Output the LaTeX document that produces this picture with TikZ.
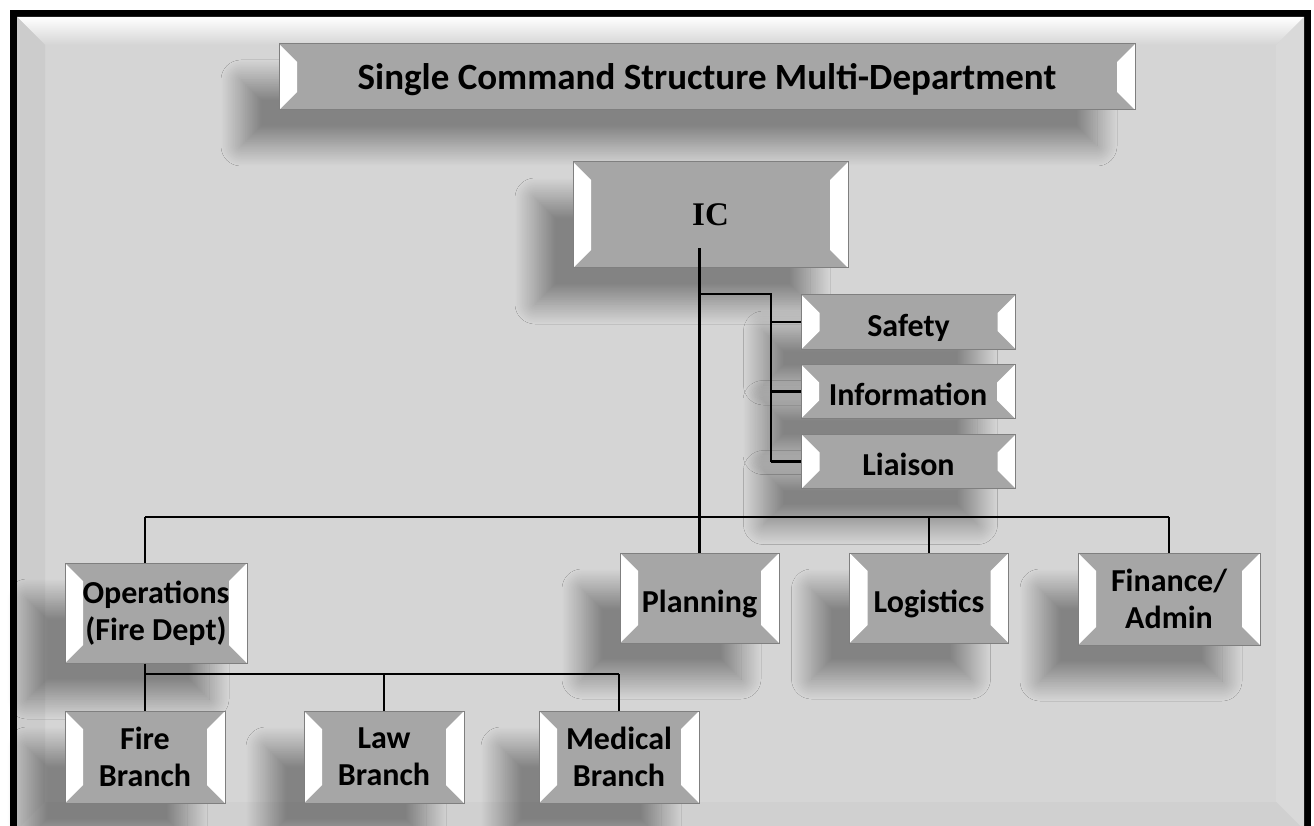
\documentclass[tikz,border=0pt]{standalone}
\usepackage{fontspec}
\setmainfont{Carlito}
\newfontfamily\icfont{Liberation Serif}
\usetikzlibrary{shadows.blur}
\definecolor{framefill}{HTML}{D5D5D5}
\definecolor{frameleft}{HTML}{CCCCCC}
\definecolor{frameright}{HTML}{D9D9D9}
\definecolor{framebottom}{HTML}{D0D0D0}
\definecolor{boxfill}{HTML}{A6A6A6}
\definecolor{boxline}{HTML}{7F7F7F}
\begin{document}
\begin{tikzpicture}[x=1pt,y=-1pt,
	box/.style={draw=boxline,line width=1pt,fill=boxfill,inner sep=0pt,align=center,
		font=\fontsize{32}{37}\selectfont\bfseries,
		blur shadow={shadow xshift=-38pt,shadow yshift=-36pt,shadow blur radius=20pt,
			shadow blur steps=30,shadow opacity=38},
		path picture={
			\fill[white] (path picture bounding box.north west) -- ++(18,18)
				-- ([shift={(18pt,18pt)}]path picture bounding box.south west)
				-- (path picture bounding box.south west) -- cycle;
			\fill[white] (path picture bounding box.north east) -- ++(-18,18)
				-- ([shift={(-18pt,18pt)}]path picture bounding box.south east)
				-- (path picture bounding box.south east) -- cycle;
		}},
	oneline/.style={text height=34pt,text depth=6pt},
	link/.style={line width=2.8pt}]
	\useasboundingbox (0,0) rectangle (1314,826);
	\clip (0,0) rectangle (1314,826);
	% frame
	\fill[black] (10,10) rectangle (1311,845);
	\fill[framefill] (17,17) rectangle (1304,830);
	\shade[top color=white,bottom color=framefill] (17,17) -- (1304,17) -- (1276,45) -- (45,45) -- cycle;
	\fill[frameleft] (17,17) -- (45,45) -- (45,802) -- (17,830) -- cycle;
	\fill[frameright] (1304,17) -- (1276,45) -- (1276,802) -- (1304,830) -- cycle;
	\fill[framebottom] (17,830) -- (45,802) -- (1276,802) -- (1304,830) -- cycle;
	% boxes
	\node[box,minimum width=856,minimum height=66,font=\fontsize{37}{40}\selectfont\bfseries,
		text height=32pt,text depth=6pt] (title) at (707,77) {Single Command Structure Multi-Department};
	\node[box,minimum width=275,minimum height=106,font=\fontsize{33}{40}\selectfont\icfont\bfseries] (ic) at (710.5,215) {IC};
	\node[box,oneline,minimum width=214,minimum height=54] (safety) at (908.5,322) {Safety};
	\node[box,oneline,minimum width=214,minimum height=54] (information) at (908,391.5) {Information};
	\node[box,oneline,minimum width=214,minimum height=54] (liaison) at (908.5,461.5) {Liaison};
	\node[box,minimum width=182,minimum height=100] (operations) at (156,613) {Operations\\(Fire Dept)};
	\node[box,oneline,minimum width=159,minimum height=90] (planning) at (699.5,598) {Planning};
	\node[box,oneline,minimum width=159,minimum height=90] (logistics) at (929,598) {Logistics};
	\node[box,minimum width=182,minimum height=92] (finance) at (1169,599) {Finance/\\Admin};
	\node[box,minimum width=160,minimum height=92] (fire) at (145,757) {Fire\\Branch};
	\node[box,minimum width=160,minimum height=92] (law) at (384,757) {Law\\Branch};
	\node[box,minimum width=160,minimum height=92] (medical) at (619,757) {Medical\\Branch};
	% connectors
	\coordinate (staffbus) at (771,294);
	\coordinate (mainbus) at (0,517);
	\coordinate (opsbus) at (0,674);
	\draw[link] ([xshift=-11pt,yshift=20pt]ic.south) -- (planning.north);
	\draw[link] (staffbus -| planning.north) -- (staffbus) -- (staffbus |- liaison.west);
	\foreach \n in {safety,information,liaison}
		\draw[link] (staffbus |- \n.west) -- (\n.west);
	\draw[link] (fire.north |- mainbus) -- (finance.north |- mainbus);
	\draw[link] (fire.north |- mainbus) -- (fire.north |- operations.north);
	\foreach \n in {logistics,finance}
		\draw[link] (\n.north |- mainbus) -- (\n.north);
	\draw[link] (fire.north |- operations.south) -- (fire.north);
	\draw[link] (fire.north |- opsbus) -- (medical.north |- opsbus);
	\foreach \n in {law,medical}
		\draw[link] (\n.north |- opsbus) -- (\n.north);
\end{tikzpicture}
\end{document}
